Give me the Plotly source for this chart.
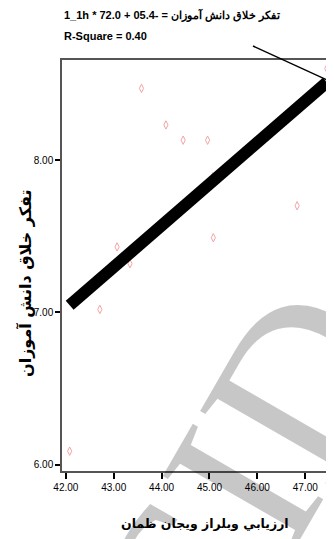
import plotly.graph_objects as go

# Data
x_vals = [42.08, 42.71, 43.07, 43.34, 43.58, 44.09, 44.45, 44.96, 45.07, 45.08, 46.83, 47.45]
y_vals = [6.09, 7.02, 7.43, 7.32, 8.47, 8.23, 8.13, 8.13, 7.89, 7.49, 7.70, 8.60]
fit_intercept = -4.42
fit_slope = 0.2725
x_ticks = [42, 43, 44, 45, 46, 47]
y_ticks = [6, 7, 8]
eq_text = "1_1h * 72.0 + 05.4- = تفکر خلاق دانش آموزان"
r2_text = "R-Square = 0.40"
y_title = "تفکر خلاق دانش آموزان"
x_title = "ارزيابي وبلراز ويجان ظمان"

xmin, xmax = min(x_vals), max(x_vals)
line_x = [xmin, xmax]
line_y = [fit_intercept + fit_slope * v for v in line_x]

sans = "Liberation Sans, Arial"

fig = go.Figure()
fig.add_trace(go.Scatter(
    x=x_vals, y=y_vals, mode="markers",
    marker=dict(symbol="diamond-tall-open", size=6, color="#f4a4a4", line=dict(width=1, color="#f4a4a4")),
    showlegend=False, hoverinfo="skip"))
fig.add_trace(go.Scatter(
    x=line_x, y=line_y, mode="lines",
    line=dict(color="black", width=12), showlegend=False, hoverinfo="skip"))

# page body has an 8px margin, so the figure is 8px smaller and shifted
fig.update_layout(
    width=326, height=531,
    margin=dict(l=54, r=0, t=52, b=68),
    paper_bgcolor="white", plot_bgcolor="white",
    font=dict(family=sans, size=10, color="black"),
    xaxis=dict(range=[41.92, 47.6], tickvals=x_ticks, ticktext=[f"{v:.2f}" for v in x_ticks],
               showgrid=False, zeroline=False, showline=True, linecolor="#555555", linewidth=1.5,
               mirror=True, ticks="outside", ticklen=6, tickwidth=2, tickcolor="black",
               tickfont=dict(family=sans, size=10)),
    yaxis=dict(range=[5.96, 8.656], tickvals=y_ticks, ticktext=[f"{v:.2f}" for v in y_ticks],
               showgrid=False, zeroline=False, showline=True, linecolor="#555555", linewidth=1.5,
               mirror=False, ticks="outside", ticklen=5, tickwidth=2, tickcolor="black",
               tickfont=dict(family=sans, size=10)),
)

# leader line from equation label to fit line
fig.add_shape(type="line", xref="paper", yref="paper",
              x0=(253 - 62) / 272, y0=(471 - 46) / 411,
              x1=(327 - 62) / 272, y1=(471 - 80) / 411,
              line=dict(color="black", width=1.5))

fig.add_annotation(text=f"<b>{eq_text}</b>", xref="paper", yref="paper",
                   x=0, y=(471 - 15) / 411, xanchor="left", yanchor="middle",
                   showarrow=False, font=dict(family=sans, size=11))
fig.add_annotation(text=f"<b>{r2_text}</b>", xref="paper", yref="paper",
                   x=0, y=(471 - 36) / 411, xanchor="left", yanchor="middle",
                   showarrow=False, font=dict(family=sans, size=11))
fig.add_annotation(text=f"<b>{y_title}</b>", xref="paper", yref="paper",
                   x=(25 - 62) / 272, y=(471 - 283) / 411, xanchor="center", yanchor="middle",
                   textangle=-90, showarrow=False, font=dict(family="DejaVu Sans, Noto Sans", size=16))
fig.add_annotation(text=f"<b>{x_title}</b>", xref="paper", yref="paper",
                   x=(205 - 62) / 272, y=(471 - 523) / 411, xanchor="center", yanchor="middle",
                   showarrow=False, font=dict(family="DejaVu Sans, Noto Sans", size=12.5))

# watermark
fig.add_annotation(text="SID", xref="paper", yref="paper",
                   x=(250 - 62) / 272, y=(471 - 470) / 411, xanchor="center", yanchor="middle",
                   textangle=-60, showarrow=False,
                   font=dict(family="Liberation Serif, DejaVu Serif", size=230, color="rgba(0,0,0,0.22)"))

fig.write_html("out.html")
